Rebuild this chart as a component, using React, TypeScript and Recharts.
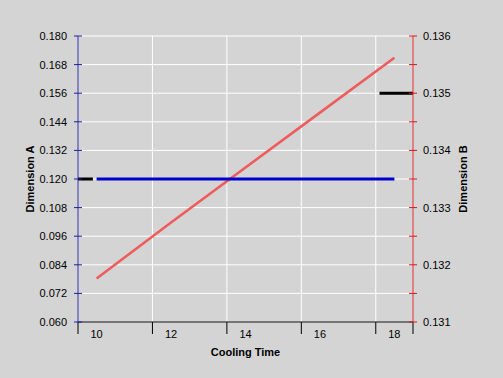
import React from 'react';
import { ComposedChart, Line, XAxis, YAxis, CartesianGrid, ReferenceLine } from 'recharts';

// ---- data ----
const coolingTime = [10, 12, 14, 16, 18];
const dimensionA = [0.12, 0.12, 0.12, 0.12, 0.12];
const dimensionB = [0.13176, 0.13274, 0.1337, 0.13466, 0.13562];

const xTickLabels = ['10', '12', '14', '16', '18'];
const xBoundaries = [9.5, 11.5, 13.5, 15.5, 17.5, 18.5];

const leftTicks = [0.06, 0.072, 0.084, 0.096, 0.108, 0.12, 0.132, 0.144, 0.156, 0.168, 0.18];
const leftTickLabels = ['0.060', '0.072', '0.084', '0.096', '0.108', '0.120', '0.132', '0.144', '0.156', '0.168', '0.180'];
const rightTicks = [0.131, 0.1315, 0.132, 0.1325, 0.133, 0.1335, 0.134, 0.1345, 0.135, 0.1355, 0.136];
const rightTickLabels = ['0.131', '', '0.132', '', '0.133', '', '0.134', '', '0.135', '', '0.136'];

// target markers drawn on the axes
const targetA = { value: 0.12, from: 9.5, to: 9.9 };
const targetB = { value: 0.135, from: 17.6, to: 18.5 };

const data = coolingTime.map((x, i) => ({ x, a: dimensionA[i], b: dimensionB[i] }));

// ---- layout / style ----
const W = 503;
const H = 378;
const LEFT_W = 78;
const RIGHT_W = 90;
const TOP = 36;
const X_H = 56;
const X_DOMAIN: [number, number] = [9.5, 18.5];
const PX_PER_UNIT = (W - LEFT_W - RIGHT_W) / (X_DOMAIN[1] - X_DOMAIN[0]);

const FONT = '"Liberation Sans", Arial, Helvetica, sans-serif';
const BG = '#d4d4d4';
const BLUE_AXIS = '#1e1e9a';
const RED_AXIS = '#d01818';
const BLUE_LINE = '#0000cc';
const RED_LINE = '#ee5c5c';

const XTick = (props: any) => {
  const { x, y, index } = props;
  const label = xTickLabels[index];
  const offset = label !== undefined ? (coolingTime[index] - xBoundaries[index]) * PX_PER_UNIT : 0;
  return (
    <g>
      <line x1={x} x2={x} y1={y} y2={y + 12} stroke="#000" strokeWidth={1} />
      {label !== undefined && (
        <text x={x + offset} y={y + 16} textAnchor="middle" fontSize={11} fontFamily={FONT} fill="#000">
          {label}
        </text>
      )}
    </g>
  );
};

const LeftTick = (props: any) => {
  const { x, y, index } = props;
  return (
    <g>
      <line x1={x - 4} x2={x + 4} y1={y} y2={y} stroke={BLUE_AXIS} strokeWidth={1} />
      <text x={x - 11} y={y} dy={4} textAnchor="end" fontSize={11} fontFamily={FONT} fill="#000">
        {leftTickLabels[index]}
      </text>
    </g>
  );
};

const RightTick = (props: any) => {
  const { x, y, index } = props;
  return (
    <g>
      <line x1={x - 4} x2={x + 4} y1={y} y2={y} stroke={RED_AXIS} strokeWidth={1} />
      <text x={x + 10} y={y} dy={4} textAnchor="start" fontSize={11} fontFamily={FONT} fill="#000">
        {rightTickLabels[index]}
      </text>
    </g>
  );
};

const LeftTitle = (props: any) => {
  const vb = props.viewBox || {};
  const cx = vb.x + 30;
  const cy = vb.y + vb.height / 2;
  return (
    <text x={cx} y={cy} dy={4} transform={`rotate(-90, ${cx}, ${cy})`} textAnchor="middle"
      fontSize={11} fontWeight="bold" fontFamily={FONT} fill="#000">
      Dimension A
    </text>
  );
};

const RightTitle = (props: any) => {
  const vb = props.viewBox || {};
  const cx = vb.x + 50;
  const cy = vb.y + vb.height / 2;
  return (
    <text x={cx} y={cy} dy={4} transform={`rotate(-90, ${cx}, ${cy})`} textAnchor="middle"
      fontSize={11} fontWeight="bold" fontFamily={FONT} fill="#000">
      Dimension B
    </text>
  );
};

const XTitle = (props: any) => {
  const vb = props.viewBox || {};
  const cx = vb.x + vb.width / 2;
  return (
    <text x={cx} y={vb.y + 34} textAnchor="middle" fontSize={11} fontWeight="bold" fontFamily={FONT} fill="#000">
      Cooling Time
    </text>
  );
};

export default function App() {
  return (
    <div style={{ position: 'fixed', left: 0, top: 0, width: W, height: H, background: BG, overflow: 'hidden' }}>
      <ComposedChart
        width={W}
        height={H}
        data={data}
        margin={{ top: TOP, right: 0, bottom: 0, left: 0 }}
        style={{ fontFamily: FONT }}
      >
        <CartesianGrid
          xAxisId="x"
          yAxisId="left"
          stroke="#ffffff"
          strokeWidth={1}
          fill="none"
        />
        <XAxis
          xAxisId="x"
          dataKey="x"
          type="number"
          domain={X_DOMAIN}
          ticks={xBoundaries}
          interval={0}
          height={X_H}
          tickSize={0}
          tickMargin={0}
          tickLine={false}
          axisLine={{ stroke: '#000', strokeWidth: 1 }}
          tick={<XTick />}
          label={XTitle}
          allowDataOverflow
        />
        <YAxis
          yAxisId="left"
          orientation="left"
          type="number"
          domain={[leftTicks[0], leftTicks[leftTicks.length - 1]]}
          ticks={leftTicks}
          interval={0}
          width={LEFT_W}
          tickSize={0}
          tickMargin={0}
          tickLine={false}
          axisLine={{ stroke: BLUE_AXIS, strokeWidth: 1 }}
          tick={<LeftTick />}
          label={LeftTitle}
          allowDataOverflow
        />
        <YAxis
          yAxisId="right"
          orientation="right"
          type="number"
          domain={[rightTicks[0], rightTicks[rightTicks.length - 1]]}
          ticks={rightTicks}
          interval={0}
          width={RIGHT_W}
          tickSize={0}
          tickMargin={0}
          tickLine={false}
          axisLine={{ stroke: RED_AXIS, strokeWidth: 1 }}
          tick={<RightTick />}
          label={RightTitle}
          allowDataOverflow
        />
        <Line
          xAxisId="x"
          yAxisId="right"
          type="linear"
          dataKey="b"
          stroke={RED_LINE}
          strokeWidth={2.6}
          dot={false}
          activeDot={false}
          isAnimationActive={false}
        />
        <Line
          xAxisId="x"
          yAxisId="left"
          type="linear"
          dataKey="a"
          stroke={BLUE_LINE}
          strokeWidth={3}
          dot={false}
          activeDot={false}
          isAnimationActive={false}
        />
        <ReferenceLine
          xAxisId="x"
          yAxisId="left"
          segment={[{ x: targetA.from, y: targetA.value }, { x: targetA.to, y: targetA.value }]}
          stroke="#000"
          strokeWidth={3}
          ifOverflow="visible"
        />
        <ReferenceLine
          xAxisId="x"
          yAxisId="right"
          segment={[{ x: targetB.from, y: targetB.value }, { x: targetB.to, y: targetB.value }]}
          stroke="#000"
          strokeWidth={3}
          ifOverflow="visible"
        />
      </ComposedChart>
    </div>
  );
}
